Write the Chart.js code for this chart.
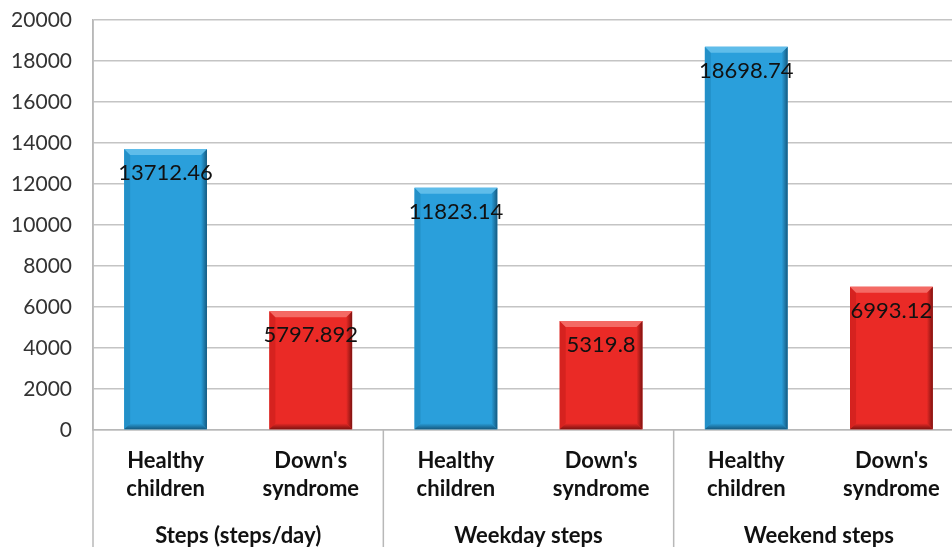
<!DOCTYPE html>
<html>
<head>
<meta charset="utf-8">
<script src="https://cdn.jsdelivr.net/npm/chart.js@4"></script>
<style>
  html, body { margin: 0; padding: 0; background: #fff; overflow: hidden; }
  #wrap { position: absolute; left: 0; top: 0; width: 964px; height: 547px; }
</style>
</head>
<body>
<div id="wrap"><canvas id="chart" width="964" height="547"></canvas></div>
<script>
// data
var groups = ["Steps (steps/day)", "Weekday steps", "Weekend steps"];
var subgroups = [["Healthy", "children"], ["Down's", "syndrome"]];
var values = [13712.46, 5797.892, 11823.14, 5319.8, 18698.74, 6993.12];
var valueLabels = ["13712.46", "5797.892", "11823.14", "5319.8", "18698.74", "6993.12"];
var yTicks = [0, 2000, 4000, 6000, 8000, 10000, 12000, 14000, 16000, 18000, 20000];

var labels = [];
groups.forEach(function (g) {
    subgroups.forEach(function (s) { labels.push(s); });
});

var shades = [
    { main: "#2a9fdb", light: "#5fbdea", dark: "#15597f", side: "#2390c8" },
    { main: "#ea2a26", light: "#f46a64", dark: "#7e1210", side: "#d6221f" }
];
var barColors = [];
values.forEach(function (v, i) { barColors.push(shades[i % 2].main); });

var FONT = "Lato, 'Open Sans', sans-serif";

// bevel look + value labels + grouped axis labels
var decorate = {
    id: "decorate",
    afterDatasetsDraw: function (chart) {
        var ctx = chart.ctx;
        var meta = chart.getDatasetMeta(0);
        meta.data.forEach(function (bar, i) {
            var p = bar.getProps(["x", "y", "base", "width"], true);
            var l = p.x - p.width / 2, r = p.x + p.width / 2, t = p.y, b = p.base;
            var s = shades[i % 2];
            var e = 6;
            ctx.save();
            // left side
            ctx.fillStyle = s.side;
            ctx.beginPath();
            ctx.moveTo(l, t); ctx.lineTo(l + e, t + e); ctx.lineTo(l + e, b - e); ctx.lineTo(l, b);
            ctx.closePath(); ctx.fill();
            // right side
            var gr = ctx.createLinearGradient(r - e, 0, r, 0);
            gr.addColorStop(0, s.main); gr.addColorStop(1, s.dark);
            ctx.fillStyle = gr;
            ctx.beginPath();
            ctx.moveTo(r, t); ctx.lineTo(r, b); ctx.lineTo(r - e, b - e); ctx.lineTo(r - e, t + e);
            ctx.closePath(); ctx.fill();
            // bottom
            var gb = ctx.createLinearGradient(0, b - e, 0, b);
            gb.addColorStop(0, s.main); gb.addColorStop(1, s.dark);
            ctx.fillStyle = gb;
            ctx.beginPath();
            ctx.moveTo(l, b); ctx.lineTo(r, b); ctx.lineTo(r - e, b - e); ctx.lineTo(l + e, b - e);
            ctx.closePath(); ctx.fill();
            // top
            ctx.fillStyle = s.light;
            ctx.beginPath();
            ctx.moveTo(l, t); ctx.lineTo(r, t); ctx.lineTo(r - e, t + e); ctx.lineTo(l + e, t + e);
            ctx.closePath(); ctx.fill();
            ctx.restore();
        });
        // value labels
        ctx.save();
        ctx.font = "22px " + FONT;
        ctx.fillStyle = "#111";
        ctx.textAlign = "center";
        ctx.textBaseline = "middle";
        meta.data.forEach(function (bar, i) {
            var p = bar.getProps(["x", "y"], true);
            ctx.fillText(valueLabels[i], p.x, p.y + 24);
        });
        ctx.restore();
    },
    afterDraw: function (chart) {
        var ctx = chart.ctx;
        var x = chart.scales.x;
        var area = chart.chartArea;
        var h = chart.height;
        ctx.save();
        ctx.strokeStyle = "#b8b8b8";
        ctx.lineWidth = 1.5;
        // left border carried down through the label area
        ctx.beginPath();
        ctx.moveTo(area.left, area.top);
        ctx.lineTo(area.left, h);
        ctx.stroke();
        // separators between groups
        for (var g = 1; g < groups.length; g++) {
            var sx = (x.getPixelForValue(g * 2 - 1) + x.getPixelForValue(g * 2)) / 2;
            ctx.beginPath();
            ctx.moveTo(sx, area.bottom);
            ctx.lineTo(sx, h);
            ctx.stroke();
        }
        // group names
        ctx.font = "bold 22px " + FONT;
        ctx.fillStyle = "#111";
        ctx.textAlign = "center";
        ctx.textBaseline = "middle";
        groups.forEach(function (name, g) {
            var cx = (x.getPixelForValue(g * 2) + x.getPixelForValue(g * 2 + 1)) / 2;
            ctx.fillText(name, cx, 536);
        });
        ctx.restore();
    }
};

new Chart(document.getElementById("chart"), {
    type: "bar",
    data: {
        labels: labels,
        datasets: [{
            data: values,
            backgroundColor: barColors,
            borderWidth: 0,
            barPercentage: 0.57,
            categoryPercentage: 1
        }]
    },
    options: {
        responsive: false,
        animation: false,
        devicePixelRatio: 1,
        layout: { padding: { top: 20, left: 0, right: 0, bottom: 0 } },
        plugins: {
            legend: { display: false },
            tooltip: { enabled: false }
        },
        scales: {
            x: {
                grid: { display: false, drawTicks: false },
                border: { display: true, color: "#b8b8b8", width: 1.5 },
                ticks: {
                    color: "#111",
                    font: { family: FONT, size: 22, weight: "bold", lineHeight: 1.28 },
                    padding: 17,
                    maxRotation: 0,
                    autoSkip: false
                },
                afterFit: function (scale) { scale.height = 117; }
            },
            y: {
                min: 0,
                max: 20000,
                afterBuildTicks: function (scale) {
                    scale.ticks = yTicks.map(function (v) { return { value: v }; });
                },
                grid: { color: "#c4c4c4", lineWidth: 1.5, drawTicks: false },
                border: { display: true, color: "#b8b8b8", width: 1.5 },
                ticks: {
                    color: "#333",
                    font: { family: FONT, size: 21 },
                    padding: 21,
                    callback: function (v) { return String(v); }
                },
                afterFit: function (scale) {
                    scale.width = 93;
                    scale.paddingTop = 0;
                    scale.paddingBottom = 0;
                }
            }
        }
    },
    plugins: [decorate]
});
</script>
</body>
</html>
